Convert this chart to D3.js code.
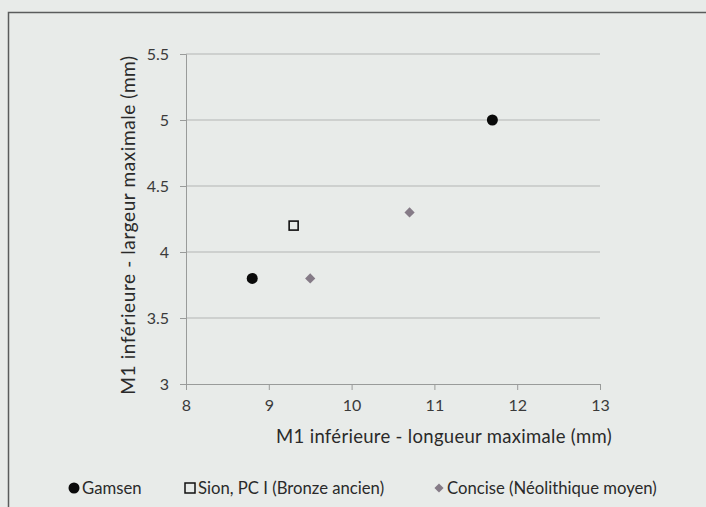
<!DOCTYPE html>
<html>
<head>
<meta charset="utf-8">
<script src="https://cdn.jsdelivr.net/npm/d3@7"></script>
<style>
  html, body { margin: 0; padding: 0; background: #e8ebe9; }
  svg { display: block; font-family: Lato, "Open Sans", sans-serif; }
</style>
</head>
<body>
<svg id="svg" width="706" height="507"></svg>
<script>
// values
const gamsenX = [8.8, 11.7];
const gamsenY = [3.8, 5.0];
const sionX = [9.3];
const sionY = [4.2];
const conciseX = [9.5, 10.7];
const conciseY = [3.8, 4.3];

const xTicks = [8, 9, 10, 11, 12, 13];
const yTicks = [3, 3.5, 4, 4.5, 5, 5.5];

const legendLabels = ["Gamsen", "Sion, PC I (Bronze ancien)", "Concise (Néolithique moyen)"];

const svg = d3.select("#svg");

// chart frame (scanned figure border)
svg.append("rect")
  .attr("x", 8.5).attr("y", 12.5)
  .attr("width", 720).attr("height", 520)
  .attr("fill", "#e8ebe9")
  .attr("stroke", "#5a5c5c")
  .attr("stroke-width", 1.5);

const x = d3.scaleLinear().domain([8, 13]).range([186, 600]);
const y = d3.scaleLinear().domain([3, 5.5]).range([384, 54]);

// horizontal gridlines
svg.append("g")
  .selectAll("line")
  .data(yTicks.filter(d => d !== 3))
  .join("line")
  .attr("x1", x(8)).attr("x2", x(13))
  .attr("y1", d => y(d)).attr("y2", d => y(d))
  .attr("stroke", "#b3b5b4")
  .attr("stroke-width", 1);

// axes
const yAxis = svg.append("g")
  .attr("transform", `translate(${x(8)},0)`)
  .call(d3.axisLeft(y).tickValues(yTicks).tickFormat(d => String(d)).tickSize(6).tickPadding(11));

const xAxis = svg.append("g")
  .attr("transform", `translate(0,${y(3)})`)
  .call(d3.axisBottom(x).tickValues(xTicks).tickFormat(d => String(d)).tickSize(6).tickPadding(10));

[xAxis, yAxis].forEach(a => {
  a.select(".domain").attr("stroke", "#999b9a");
  a.selectAll(".tick line").attr("stroke", "#999b9a");
  a.selectAll(".tick text")
    .attr("fill", "#3a3a3a")
    .style("font-size", "16px")
    .style("font-family", "Lato, sans-serif");
});

// axis titles
svg.append("text")
  .attr("x", 444).attr("y", 443)
  .attr("text-anchor", "middle")
  .attr("fill", "#2a2a2a")
  .style("font-size", "18.5px")
  .style("letter-spacing", "0.3px")
  .text("M1 inférieure - longueur maximale (mm)");

svg.append("text")
  .attr("transform", "translate(135,225) rotate(-90)")
  .attr("text-anchor", "middle")
  .attr("fill", "#2a2a2a")
  .style("font-size", "19px")
  .style("letter-spacing", "0.6px")
  .text("M1 inférieure - largeur maximale (mm)");

// Gamsen
svg.append("g")
  .selectAll("circle")
  .data(gamsenX.map((v, i) => [v, gamsenY[i]]))
  .join("circle")
  .attr("cx", d => x(d[0]))
  .attr("cy", d => y(d[1]))
  .attr("r", 5.5)
  .attr("fill", "#0a0a0a");

// Sion
svg.append("g")
  .selectAll("rect")
  .data(sionX.map((v, i) => [v, sionY[i]]))
  .join("rect")
  .attr("x", d => x(d[0]) - 4.5)
  .attr("y", d => y(d[1]) - 4.5)
  .attr("width", 9).attr("height", 9)
  .attr("fill", "none")
  .attr("stroke", "#111")
  .attr("stroke-width", 1.6);

// Concise
svg.append("g")
  .selectAll("path")
  .data(conciseX.map((v, i) => [v, conciseY[i]]))
  .join("path")
  .attr("transform", d => `translate(${x(d[0])},${y(d[1])}) rotate(45)`)
  .attr("d", d3.symbol().type(d3.symbolSquare).size(52))
  .attr("fill", "#857b87");

// legend
const legend = svg.append("g").attr("transform", "translate(0,488)");
const legendX = [74, 190, 439];

legend.append("circle").attr("cx", legendX[0]).attr("cy", 0).attr("r", 5.5).attr("fill", "#0a0a0a");
legend.append("rect")
  .attr("x", legendX[1] - 5).attr("y", -5)
  .attr("width", 10).attr("height", 10)
  .attr("fill", "none").attr("stroke", "#111").attr("stroke-width", 1.5);
legend.append("path")
  .attr("transform", `translate(${legendX[2]},0) rotate(45)`)
  .attr("d", d3.symbol().type(d3.symbolSquare).size(42))
  .attr("fill", "#857b87");

legend.selectAll("text")
  .data(legendLabels)
  .join("text")
  .attr("x", (d, i) => legendX[i] + 8)
  .attr("y", 0)
  .attr("dy", "0.35em")
  .attr("fill", "#2a2a2a")
  .style("font-size", "16.7px")
  .text(d => d);
</script>
</body>
</html>
